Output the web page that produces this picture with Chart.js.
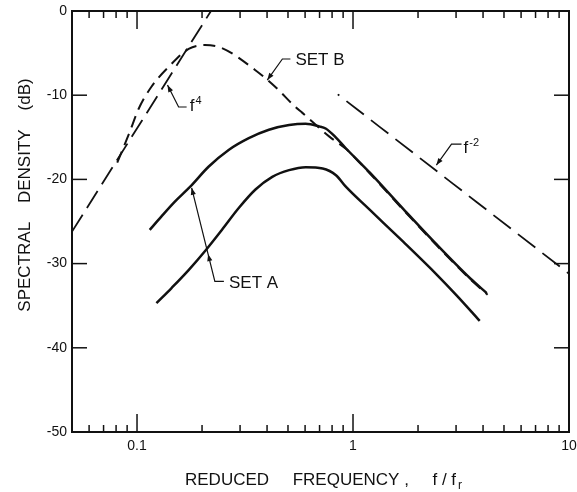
<!DOCTYPE html>
<html>
<head>
<meta charset="utf-8">
<script src="https://cdn.jsdelivr.net/npm/chart.js@4/dist/chart.umd.min.js"></script>
<style>
  html, body { margin: 0; background: #fff; }
  canvas { display: block; }
</style>
</head>
<body>
<canvas id="spectrum" width="577" height="492"></canvas>
<script>
// ---------------------------
// data (f / fr, dB)
// ---------------------------
const setAUpperF  = [0.1145, 0.1298, 0.1497, 0.1758, 0.2143, 0.2656, 0.3293, 0.408, 0.506, 0.603, 0.698, 0.747, 0.832, 0.926, 1.197, 1.707, 2.432, 3.503, 4.16];
const setAUpperDb = [-26.0, -24.4, -22.65, -20.9, -18.5, -16.5, -15.1, -14.1, -13.55, -13.4, -13.7, -13.95, -15.0, -16.3, -19.2, -23.5, -27.7, -31.8, -33.5];

const setALowerF  = [0.123, 0.1445, 0.1729, 0.2066, 0.247, 0.2958, 0.3535, 0.4228, 0.5058, 0.6046, 0.7233, 0.834, 0.9286, 1.194, 1.707, 2.44, 3.024, 3.86];
const setALowerDb = [-34.7, -32.9, -30.8, -28.5, -26.0, -23.4, -21.2, -19.7, -18.9, -18.55, -18.7, -19.5, -20.9, -23.6, -27.4, -31.3, -33.8, -36.8];

const setBF  = [0.081, 0.0924, 0.1014, 0.1166, 0.140, 0.1734, 0.206, 0.247, 0.352, 0.436, 0.541, 0.583, 0.78, 0.93, 1.197, 1.707, 2.432, 3.503, 4.2];
const setBDb = [-18.0, -14.4, -11.7, -9.0, -6.65, -4.5, -4.05, -4.4, -7.0, -9.0, -11.4, -12.1, -14.95, -16.4, -19.3, -23.6, -27.8, -31.9, -33.7];

const slopeF4F  = [0.05, 0.22];
const slopeF4Db = [-26.2, 0];

const slopeFm2F  = [0.85, 10];
const slopeFm2Db = [-9.9, -31.2];

const xTickValues = [0.1, 1, 10];
const xTickLabels = ["0.1", "1", "10"];
const yTickLabels = ["0", "-10", "-20", "-30", "-40", "-50"];

const INK = "#111";
const FONT = "'Liberation Sans', Arial, sans-serif";

// callouts, placed in data coordinates
const notes = [
  { text: "SET B", f: 0.541, db: -6.4, leader: [[0.513, -5.7], [0.471, -5.7], [0.401, -8.2]] },
  { text: "f", sup: "4", f: 0.1753, db: -11.9, leader: [[0.1697, -11.4], [0.1558, -11.4], [0.1384, -8.8]] },
  { text: "f", sup: "-2", f: 3.25, db: -16.9, leader: [[3.18, -15.8], [2.858, -15.8], [2.432, -18.3]] },
  { text: "SET A", f: 0.2665, db: -32.9, leader: [[0.2525, -32.1], [0.2293, -32.1], [0.179, -21.0]], midHead: 0.29 }
];

// ---------------------------
// helpers
// ---------------------------

function toPoints(fs, dbs) {
  return fs.map((f, i) => ({ x: f, y: dbs[i] }));
}

function lineSet(fs, dbs, width, dash, dashOffset) {
  return {
    data: toPoints(fs, dbs),
    borderColor: INK,
    borderWidth: width,
    borderDash: dash || [],
    borderDashOffset: dashOffset || 0,
    pointRadius: 0,
    cubicInterpolationMode: "monotone",
    fill: false
  };
}

function arrowHead(ctx, x0, y0, x1, y1) {
  const a = Math.atan2(y1 - y0, x1 - x0), len = 7, w = 2.6;
  const bx = x1 - len * Math.cos(a), by = y1 - len * Math.sin(a);
  ctx.beginPath();
  ctx.moveTo(x1, y1);
  ctx.lineTo(bx + w * Math.sin(a), by - w * Math.cos(a));
  ctx.lineTo(bx - w * Math.sin(a), by + w * Math.cos(a));
  ctx.closePath();
  ctx.fill();
}

function seg(ctx, x0, y0, x1, y1) {
  ctx.beginPath();
  ctx.moveTo(x0, y0);
  ctx.lineTo(x1, y1);
  ctx.stroke();
}

// ---------------------------
// frame, inward ticks, titles, callouts
// ---------------------------

const decorations = {
  id: "decorations",
  afterDraw(chart) {
    const { ctx, chartArea: a, scales: { x, y } } = chart;
    const px = v => x.getPixelForValue(v);
    const py = v => y.getPixelForValue(v);
    ctx.save();
    ctx.strokeStyle = INK;
    ctx.fillStyle = INK;

    ctx.lineWidth = 2;
    ctx.strokeRect(a.left, a.top, a.right - a.left, a.bottom - a.top);

    ctx.lineWidth = 1.5;
    x.ticks.forEach(t => {
      const p = px(t.value);
      if (p <= a.left + 1 || p >= a.right - 1) return;
      const len = xTickValues.includes(t.value) ? 18 : 7;
      seg(ctx, p, a.bottom, p, a.bottom - len);
      seg(ctx, p, a.top, p, a.top + len);
    });
    y.ticks.forEach(t => {
      const p = py(t.value);
      if (p <= a.top + 1 || p >= a.bottom - 1) return;
      seg(ctx, a.left, p, a.left + 15, p);
      seg(ctx, a.right, p, a.right - 15, p);
    });

    // axis titles
    ctx.font = "17px " + FONT;
    ctx.textBaseline = "alphabetic";
    ctx.textAlign = "left";
    const xTitle = "REDUCED     FREQUENCY ,     f / f";
    const tx = a.left + 113, ty = 485;
    ctx.fillText(xTitle, tx, ty);
    const w = ctx.measureText(xTitle).width;
    ctx.font = "12px " + FONT;
    ctx.fillText("r", tx + w + 2, ty + 4);

    ctx.save();
    ctx.font = "17px " + FONT;
    ctx.translate(30, 195);
    ctx.rotate(-Math.PI / 2);
    ctx.textAlign = "center";
    ctx.fillText("SPECTRAL    DENSITY    (dB)", 0, 0);
    ctx.restore();

    // callouts
    notes.forEach(n => {
      const lx = px(n.f), ly = py(n.db);
      ctx.font = "17px " + FONT;
      ctx.textAlign = "left";
      ctx.fillText(n.text, lx, ly);
      if (n.sup) {
        const tw = ctx.measureText(n.text).width;
        ctx.font = "11px " + FONT;
        ctx.fillText(n.sup, lx + tw + 1, ly - 7);
      }
      const pts = n.leader.map(p => [px(p[0]), py(p[1])]);
      ctx.lineWidth = 1.2;
      ctx.beginPath();
      ctx.moveTo(pts[0][0], pts[0][1]);
      pts.slice(1).forEach(p => ctx.lineTo(p[0], p[1]));
      ctx.stroke();
      const [c, tip] = pts.slice(-2);
      arrowHead(ctx, c[0], c[1], tip[0], tip[1]);
      if (n.midHead) {
        const mx = c[0] + n.midHead * (tip[0] - c[0]);
        const my = c[1] + n.midHead * (tip[1] - c[1]);
        arrowHead(ctx, c[0], c[1], mx, my);
      }
    });
    ctx.restore();
  }
};

// ---------------------------
// chart
// ---------------------------

function createChart() {
  const ctx = document.getElementById("spectrum").getContext("2d");
  Chart.defaults.font.family = FONT;
  Chart.defaults.color = INK;

  return new Chart(ctx, {
    type: "line",
    data: {
      datasets: [
        lineSet(setAUpperF, setAUpperDb, 2.5),
        lineSet(setALowerF, setALowerDb, 2.5),
        lineSet(setBF, setBDb, 2, [12, 7]),
        lineSet(slopeF4F, slopeF4Db, 1.8, [20, 8]),
        lineSet(slopeFm2F, slopeFm2Db, 1.8, [22, 9], 20)
      ]
    },
    options: {
      responsive: false,
      animation: false,
      devicePixelRatio: 1,
      layout: { padding: { top: 11, right: 8, left: 0, bottom: 0 } },
      plugins: { legend: { display: false }, tooltip: { enabled: false } },
      scales: {
        x: {
          type: "logarithmic",
          min: 0.05,
          max: 10,
          grid: { display: false, drawTicks: false },
          border: { display: false },
          afterBuildTicks: scale => {
            scale.ticks = scale.ticks.filter(t => {
              const s = t.value / Math.pow(10, Math.floor(Math.log10(t.value) + 1e-9));
              return Math.abs(s - Math.round(s)) < 1e-6;
            });
          },
          afterFit: scale => {
            scale.height = 60;
            scale.paddingLeft = 0;
            scale.paddingRight = 0;
          },
          ticks: {
            autoSkip: false,
            maxRotation: 0,
            padding: 6,
            font: { size: 14 },
            callback: value => {
              const i = xTickValues.findIndex(v => Math.abs(v - value) < 1e-9);
              return i >= 0 ? xTickLabels[i] : "";
            }
          }
        },
        y: {
          min: -50,
          max: 0,
          grid: { display: false, drawTicks: false },
          border: { display: false },
          afterFit: scale => {
            scale.width = 72;
            scale.paddingTop = 0;
            scale.paddingBottom = 0;
          },
          ticks: {
            stepSize: 10,
            padding: 5,
            font: { size: 14 },
            callback: value => yTickLabels[Math.round(-value / 10)]
          }
        }
      }
    },
    plugins: [decorations]
  });
}

createChart();
</script>
</body>
</html>
